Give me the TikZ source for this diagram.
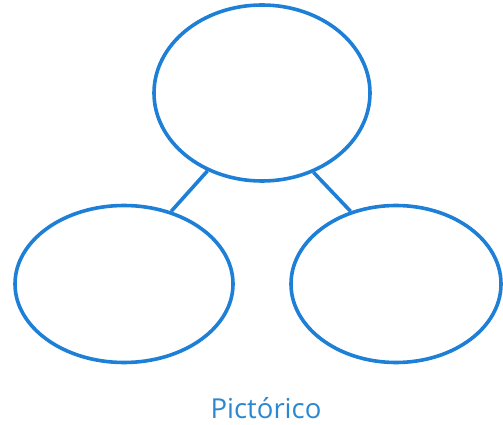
\documentclass[tikz,border=0pt]{standalone}
\usepackage{fontspec}
\setmainfont{Open Sans}
\usetikzlibrary{shapes.geometric}
\definecolor{ringblue}{HTML}{1E7FD6}
\definecolor{labelblue}{HTML}{2B88D0}
\tikzset{
  ring/.style={ellipse, draw=ringblue, line width=3.6pt, inner sep=0pt},
  link/.style={draw=ringblue, line width=3.6pt}
}
\begin{document}
\begin{tikzpicture}[x=1pt, y=-1pt]
  \useasboundingbox (0,0) rectangle (503,425);

  % Top ellipse
  \node[ring, minimum width=216pt, minimum height=176pt] (top) at (262,93) {};

  % Bottom ellipses
  \node[ring, minimum width=218pt, minimum height=157pt] (left) at (124,284) {};
  \node[ring, minimum width=210pt, minimum height=157pt] (right) at (396,284) {};

  % Connectors
  \draw[link] (top.235) -- (left.57);
  \draw[link] (top.303) -- (right.122);

  % Caption
  \node[text=labelblue, font=\fontsize{27.5}{30}\selectfont, anchor=base, inner sep=0pt] (caption) at (266,418) {Pictórico};
\end{tikzpicture}
\end{document}
